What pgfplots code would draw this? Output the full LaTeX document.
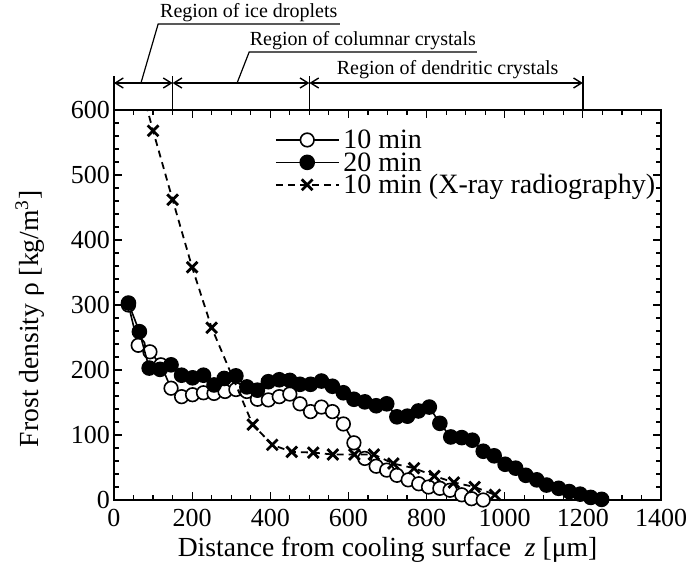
\documentclass[border=0pt]{standalone}
\usepackage{fontspec}
\setmainfont{Liberation Serif}
\usepackage{pgfplots}
\pgfplotsset{compat=1.18}
\usetikzlibrary{arrows.meta}

\begin{document}
\begin{tikzpicture}
\begin{axis}[
  name=ax,
  scale only axis,
  width=273.5pt, height=195pt,
  xmin=0, xmax=1400, ymin=0, ymax=600,
  xtick={0,200,...,1400}, ytick={0,100,...,600},
  minor x tick num=3, minor y tick num=4,
  tick align=inside, xtick pos=both, ytick pos=both,
  major tick length=4pt, minor tick length=2.5pt,
  axis line style={line width=0.8pt},
  every tick/.style={line width=0.6pt, black},
  /pgf/number format/assume math mode=true,
  /pgf/number format/1000 sep={},
  tick label style={font=\fontsize{13}{14}\selectfont},
  xticklabel style={yshift=-1pt},
  yticklabel style={xshift=1.5pt},
  xlabel={Distance from cooling surface\ \ \textit{z} [μm]},
  ylabel={Frost density\ ρ [kg/m\textsuperscript{3}]},
  label style={font=\fontsize{13.8}{14}\selectfont},
  xlabel style={at={(axis description cs:0.5,-0.128)}, anchor=center},
  ylabel style={at={(axis description cs:-0.1536,0.465)}, anchor=center},
  clip mode=individual,
  legend style={draw=none, fill=none, at={(rel axis cs:0.29,0.955)}, anchor=north west,
    font=\fontsize{14}{14}\selectfont, row sep=1.2pt, inner sep=1pt,
    nodes={inner ysep=0pt, text height=9.5pt, text depth=0.5pt}},
  legend cell align=left,
  legend image code/.code={\draw[mark repeat=2,mark phase=2] plot coordinates {(0cm,0cm)(0.55cm,0cm)(1.1cm,0cm)};},
]
% 10 min
\addplot[black, line width=0.8pt, mark=*, mark size=3.4pt, mark options={fill=white, line width=0.8pt}] coordinates {
(37,300)(62,238)(92,228)(120,208)(146,172)(173,159)(201,162)(229,165)(256,164)(284,167)
(312,170)(340,167)(367,155)(395,154)(423,159)(450,163)(476,148)(503,136)(531,143)(559,136)
(587,117)(614,88)(642,64)(671,52)(698,46)(724,38)(753,31)(780,25)(805,20)(834,18)
(860,15)(890,8)(915,2)(945,0)
};
\addlegendentry{10 min}
% 20 min
\addplot[black, line width=0.8pt, mark=*, mark size=3.5pt, mark options={fill=black}] coordinates {
(37,303)(65,259)(90,203)(118,201)(146,208)(173,192)(201,188)(229,192)(256,177)(282,187)
(312,191)(340,174)(367,169)(395,182)(423,185)(450,184)(476,178)(503,178)(531,183)(559,175)
(587,165)(614,155)(642,151)(671,145)(698,148)(724,128)(751,129)(779,137)(807,143)(834,118)
(862,97)(890,96)(917,92)(945,75)(973,68)(1001,55)(1028,49)(1054,38)(1082,31)(1107,23)
(1138,18)(1165,13)(1193,9)(1220,4)(1248,1)
};
\addlegendentry{20 min}
% 10 min X-ray radiography
\addplot[black, line width=0.9pt, dash pattern=on 3.5pt off 2.5pt, mark=x, mark size=3.8pt, mark options={solid, line width=1.4pt}] coordinates {
(50,680)(100,568)(150,462)(200,358)(250,265)(355,116)(405,85)(455,74)(510,73)(560,70)
(615,70)(665,70)(715,56)(768,49)(820,37)(870,27)(923,20)(975,8)
};
\addlegendentry{10 min (X-ray radiography)}

% region annotations
\draw[line width=0.7pt] (axis cs:0,600) -- ([yshift=17pt]axis cs:0,600);
\draw[line width=0.7pt] (axis cs:150,600) -- ([yshift=17pt]axis cs:150,600);
\draw[line width=0.7pt] (axis cs:500,600) -- ([yshift=17pt]axis cs:500,600);
\draw[line width=0.7pt] (axis cs:1200,600) -- ([yshift=17pt]axis cs:1200,600);
\draw[line width=0.7pt, {Straight Barb[length=4pt,width=5pt]}-{Straight Barb[length=4pt,width=5pt]}]
  ([yshift=13.5pt]axis cs:0,600) -- ([yshift=13.5pt]axis cs:150,600);
\draw[line width=0.7pt, {Straight Barb[length=4pt,width=5pt]}-{Straight Barb[length=4pt,width=5pt]}]
  ([yshift=13.5pt]axis cs:150,600) -- ([yshift=13.5pt]axis cs:500,600);
\draw[line width=0.7pt, {Straight Barb[length=4pt,width=5pt]}-{Straight Barb[length=4pt,width=5pt]}]
  ([yshift=13.5pt]axis cs:500,600) -- ([yshift=13.5pt]axis cs:1200,600);
\draw[line width=0.6pt] ([yshift=13.5pt]axis cs:69,600) -- ([yshift=43pt]axis cs:113,600) -- ([yshift=43pt]axis cs:578,600);
\node[anchor=south, inner sep=1pt, font=\fontsize{10}{11}\selectfont] at ([yshift=43pt]axis cs:345,600) {Region of ice droplets};
\draw[line width=0.6pt] ([yshift=13.5pt]axis cs:315,600) -- ([yshift=29pt]axis cs:346,600) -- ([yshift=29pt]axis cs:929,600);
\node[anchor=south, inner sep=1pt, font=\fontsize{10}{11}\selectfont] at ([yshift=29pt]axis cs:637,600) {Region of columnar crystals};
\node[anchor=south, inner sep=1pt, font=\fontsize{10}{11}\selectfont] at ([yshift=14.5pt]axis cs:854,600) {Region of dendritic crystals};
\end{axis}
\pgfresetboundingbox
\path ([shift={(-57pt,-34.5pt)}]ax.south west) rectangle ++(349.5pt,284.5pt);
\end{tikzpicture}
\end{document}
